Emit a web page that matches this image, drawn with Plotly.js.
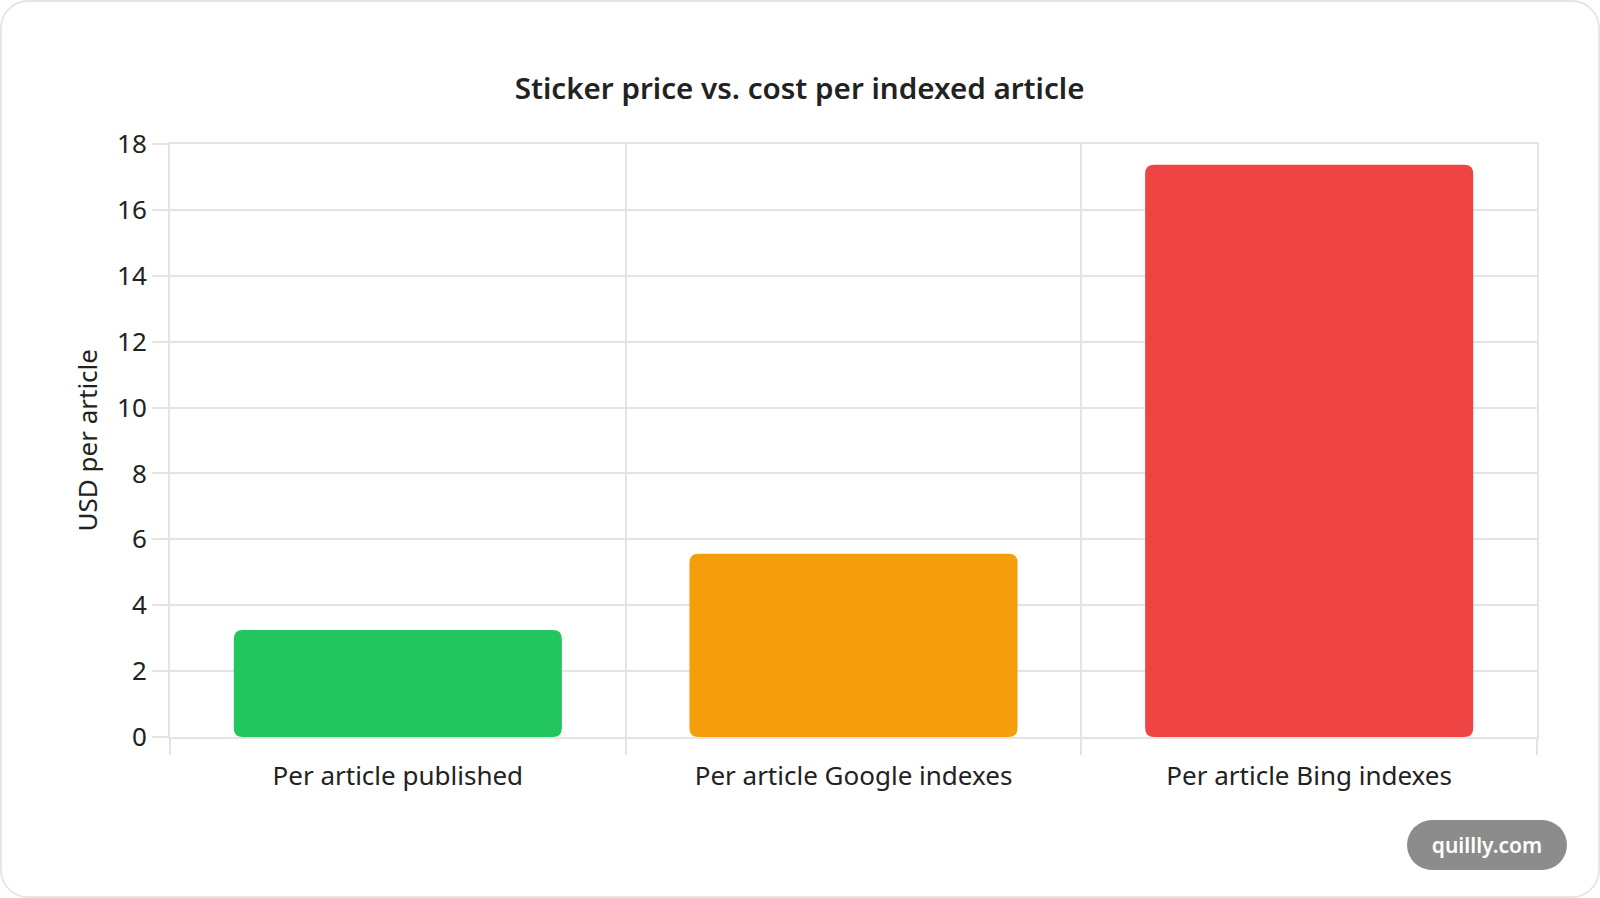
<!DOCTYPE html>
<html>
<head>
<meta charset="utf-8">
<script src="https://cdn.plot.ly/plotly-3.0.1.min.js"></script>
<style>
  html, body { margin: 0; padding: 0; background: #ffffff; }
  #card {
    position: absolute; left: 0; top: 0;
    width: 1600px; height: 898px; box-sizing: border-box;
    border: 2px solid #e6e6e6; border-radius: 28px;
    background: #ffffff; overflow: hidden;
  }
  #chart { position: absolute; left: 0; top: 0; width: 1600px; height: 898px; }
  #badge {
    position: absolute; left: 1405px; top: 818px;
    width: 160px; height: 50px; border-radius: 25px;
    background: #8c8c8c; color: #ffffff;
    font-family: "Noto Sans", sans-serif; font-size: 21px; font-weight: 600;
    line-height: 50px; text-align: center;
  }
</style>
</head>
<body>
<div id="card">
  <div id="chart"></div>
  <div id="badge">quillly.com</div>
</div>
<script>
// values
var categories = ["Per article published", "Per article Google indexes", "Per article Bing indexes"];
var costs = [3.25, 5.56, 17.37];
var barColors = ["#22c55e", "#f59e0b", "#ef4444"];
var yTicks = [0, 2, 4, 6, 8, 10, 12, 14, 16, 18];

var gridColor = "#e4e4e4";
var font = "Noto Sans, sans-serif";
var radius = 9;

var data = [{
  type: "bar",
  x: categories,
  y: costs,
  marker: { color: barColors, cornerradius: radius, line: { width: 0 } },
  hoverinfo: "x+y"
}];

var layout = {
  width: 1600,
  height: 898,
  autosize: false,
  margin: { l: 168, r: 65, t: 142, b: 163 },
  paper_bgcolor: "rgba(0,0,0,0)",
  plot_bgcolor: "rgba(0,0,0,0)",
  bargap: 0.28,
  showlegend: false,
  font: { family: font, color: "#222222", size: 26 },
  title: {
    text: "Sticker price vs. cost per indexed article",
    font: { family: font, size: 29.6, weight: 600, color: "#222222" },
    x: 0.4985, xref: "container", xanchor: "center",
    y: 1 - 87 / 898, yref: "container", yanchor: "middle"
  },
  xaxis: {
    type: "category",
    tickson: "boundaries",
    ticks: "outside", ticklen: 16, tickwidth: 2, tickcolor: gridColor,
    ticklabelstandoff: 15,
    showgrid: true, gridcolor: gridColor, gridwidth: 2,
    showline: true, linecolor: gridColor, linewidth: 2, mirror: true,
    tickfont: { family: font, size: 26, color: "#222222" },
    fixedrange: true
  },
  yaxis: {
    range: [0, 18],
    tickvals: yTicks,
    ticks: "outside", ticklen: 16, tickwidth: 2, tickcolor: gridColor,
    showgrid: true, gridcolor: gridColor, gridwidth: 2,
    zeroline: false,
    showline: true, linecolor: gridColor, linewidth: 2, mirror: true,
    tickfont: { family: font, size: 26, color: "#222222" },
    fixedrange: true
  },
  annotations: [{
    text: "USD per article",
    textangle: -90,
    xref: "paper", yref: "paper",
    x: (84 - 168) / 1367, y: 0.5,
    xanchor: "center", yanchor: "middle",
    showarrow: false,
    font: { family: font, size: 26, color: "#222222" }
  }]
};

// Plotly only rounds the top of a bar; round the bottom too, like the original
function roundAllCorners(gd) {
  var paths = gd.querySelectorAll(".barlayer .point path");
  paths.forEach(function(p) {
    var b = p.getBBox();
    var r = Math.min(radius, b.width / 2, b.height / 2);
    var x0 = b.x, y0 = b.y, x1 = b.x + b.width, y1 = b.y + b.height;
    var d = "M" + (x0 + r) + "," + y0 +
      "H" + (x1 - r) + "Q" + x1 + "," + y0 + " " + x1 + "," + (y0 + r) +
      "V" + (y1 - r) + "Q" + x1 + "," + y1 + " " + (x1 - r) + "," + y1 +
      "H" + (x0 + r) + "Q" + x0 + "," + y1 + " " + x0 + "," + (y1 - r) +
      "V" + (y0 + r) + "Q" + x0 + "," + y0 + " " + (x0 + r) + "," + y0 + "Z";
    p.setAttribute("d", d);
  });
}

Plotly.newPlot("chart", data, layout, { displayModeBar: false, staticPlot: true })
  .then(roundAllCorners);
</script>
</body>
</html>
